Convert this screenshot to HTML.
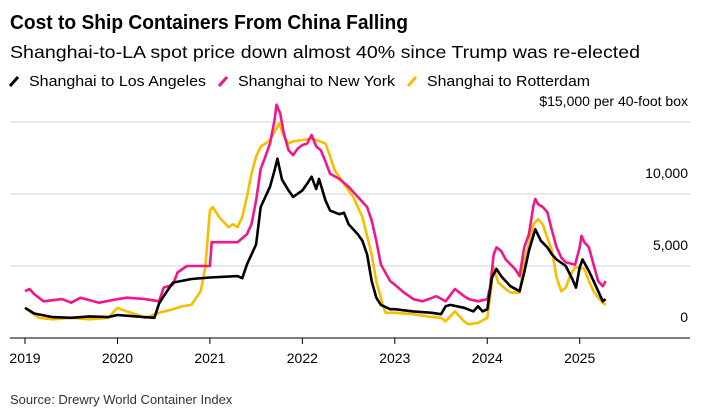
<!DOCTYPE html>
<html><head><meta charset="utf-8"><style>
html,body{margin:0;padding:0;background:#fff;}
svg{display:block;font-family:"Liberation Sans",Arial,sans-serif;}
</style></head><body>
<svg id="chart" width="705" height="408" viewBox="0 0 705 408">
<text x="10" y="29" font-size="20.5" font-weight="bold" fill="#000" textLength="398" lengthAdjust="spacingAndGlyphs">Cost to Ship Containers From China Falling</text>
<text x="10" y="58" font-size="17.5" fill="#000" textLength="630" lengthAdjust="spacingAndGlyphs">Shanghai-to-LA spot price down almost 40% since Trump was re-elected</text>
<g>
<line x1="10" y1="86" x2="18" y2="77" stroke="#000" stroke-width="3"/>
<text x="29" y="86" font-size="14.5" fill="#000" textLength="177" lengthAdjust="spacingAndGlyphs">Shanghai to Los Angeles</text>
<line x1="219" y1="86" x2="227" y2="77" stroke="#f0168c" stroke-width="3"/>
<text x="238" y="86" font-size="14.5" fill="#000" textLength="157" lengthAdjust="spacingAndGlyphs">Shanghai to New York</text>
<line x1="408" y1="86" x2="416" y2="77" stroke="#f7bd00" stroke-width="3"/>
<text x="427" y="86" font-size="14.5" fill="#000" textLength="163" lengthAdjust="spacingAndGlyphs">Shanghai to Rotterdam</text>
</g>
<g id="grid"></g><g id="series"></g><g id="axis"></g>
<text x="10" y="404" font-size="13" fill="#333">Source: Drewry World Container Index</text>
</svg>
<script>
const yTicks=[0,5000,10000,15000];
const yTickLabels=["0","5,000","10,000","$15,000 per 40-foot box"];
const xYears=[2019,2020,2021,2022,2023,2024,2025];
const laT=[2019.0,2019.1,2019.3,2019.5,2019.7,2019.9,2020.0,2020.2,2020.4,2020.45,2020.5,2020.6,2020.8,2021.0,2021.3,2021.35,2021.4,2021.5,2021.55,2021.65,2021.7,2021.73,2021.78,2021.85,2021.9,2022.0,2022.05,2022.1,2022.15,2022.18,2022.25,2022.3,2022.4,2022.45,2022.5,2022.6,2022.65,2022.7,2022.75,2022.8,2022.85,2022.95,2023.0,2023.2,2023.4,2023.5,2023.55,2023.6,2023.75,2023.85,2023.9,2023.95,2024.0,2024.05,2024.1,2024.15,2024.25,2024.35,2024.4,2024.45,2024.52,2024.58,2024.65,2024.7,2024.75,2024.85,2024.92,2024.96,2025.0,2025.03,2025.1,2025.15,2025.2,2025.25,2025.28];
const laV=[2100,1700,1450,1400,1500,1450,1600,1500,1400,2400,2900,3850,4100,4200,4300,4150,5100,6500,9100,10500,11650,12450,11000,10250,9800,10250,10700,11200,10350,11050,9550,8850,8600,8700,7900,7200,6750,5800,3950,2800,2300,2000,2000,1850,1750,1650,2200,2300,2100,1850,2200,1850,2000,4200,4800,4300,3600,3250,4550,6050,7550,6750,6300,5800,5450,5000,4100,3500,4900,5450,4650,3950,3250,2550,2700];
const nyT=[2019.0,2019.05,2019.1,2019.2,2019.4,2019.5,2019.6,2019.8,2020.0,2020.1,2020.3,2020.45,2020.5,2020.6,2020.65,2020.75,2021.0,2021.02,2021.3,2021.4,2021.45,2021.5,2021.55,2021.6,2021.65,2021.7,2021.72,2021.76,2021.8,2021.85,2021.9,2021.95,2022.0,2022.05,2022.1,2022.15,2022.2,2022.25,2022.3,2022.4,2022.5,2022.6,2022.7,2022.75,2022.8,2022.85,2022.95,2023.0,2023.1,2023.2,2023.3,2023.45,2023.55,2023.65,2023.75,2023.8,2023.9,2024.0,2024.03,2024.07,2024.1,2024.15,2024.2,2024.3,2024.35,2024.4,2024.45,2024.5,2024.52,2024.55,2024.6,2024.65,2024.7,2024.75,2024.8,2024.85,2024.95,2025.0,2025.02,2025.05,2025.1,2025.15,2025.2,2025.25,2025.28];
const nyV=[3250,3400,3050,2550,2700,2450,2800,2450,2700,2800,2700,2550,3500,3700,4550,5000,5000,6650,6650,7200,7900,9550,11750,12600,13500,15150,16200,15600,14200,13050,12700,13150,13400,13500,14100,13300,13050,12250,11400,11050,10500,9800,9100,8150,6750,5100,3950,3700,3150,2700,2550,2900,2550,3400,2900,2700,2550,2700,3500,5800,6300,6050,5450,4800,4300,6300,7200,9200,9650,9300,9100,8750,7450,6300,5600,5250,5100,6300,7100,6650,6300,5100,3950,3600,3950];
const rtT=[2019.0,2019.05,2019.15,2019.3,2019.5,2019.7,2019.9,2020.0,2020.1,2020.2,2020.3,2020.45,2020.6,2020.7,2020.8,2020.9,2020.95,2021.0,2021.03,2021.1,2021.2,2021.25,2021.3,2021.35,2021.4,2021.45,2021.5,2021.55,2021.6,2021.65,2021.72,2021.75,2021.8,2021.85,2021.9,2022.0,2022.1,2022.15,2022.25,2022.3,2022.35,2022.45,2022.55,2022.65,2022.75,2022.8,2022.87,2022.9,2023.0,2023.2,2023.35,2023.5,2023.55,2023.65,2023.75,2023.8,2023.9,2024.0,2024.03,2024.07,2024.12,2024.2,2024.25,2024.35,2024.4,2024.45,2024.5,2024.55,2024.6,2024.7,2024.75,2024.8,2024.85,2024.9,2024.95,2025.0,2025.05,2025.1,2025.15,2025.2,2025.25,2025.28];
const rtV=[2100,1850,1400,1300,1400,1300,1400,2100,1850,1650,1400,1750,2000,2200,2300,3250,4900,8850,9100,8400,7700,7900,7700,8400,9800,11400,12600,13300,13500,13750,14550,14900,14000,13500,13650,13750,13850,13750,13500,12600,11650,10700,9800,8400,5800,3950,2300,1750,1750,1650,1500,1400,1150,1850,1150,950,1050,1400,2800,4900,3850,3400,3150,3150,5350,6500,7900,8250,7900,6050,4200,3250,3500,4400,4900,4900,4800,3950,3250,2800,2450,2300];

const NS='http://www.w3.org/2000/svg';
const x0=10,x1=690;
function xScale(t){return 25+(t-2019)*92.45;}
function yScale(v){return 338-v/5000*72;}
function mk(tag,attrs,parent){const e=document.createElementNS(NS,tag);for(const k in attrs)e.setAttribute(k,attrs[k]);parent.appendChild(e);return e;}
const grid=document.getElementById('grid'),series=document.getElementById('series'),axis=document.getElementById('axis');
yTicks.forEach((v,i)=>{
  if(v>0){const l=mk('line',{x1:x0,x2:x1,y1:yScale(v),y2:yScale(v),stroke:'#dcdcdc','stroke-width':1.3},grid);
  
  }
  const t=mk('text',{x:688,y:yScale(v)-16,'font-size':14,'text-anchor':'end',fill:'#000'},grid);
  t.textContent=yTickLabels[i];
  
  
});
const ax=mk('line',{x1:x0,x2:x1,y1:338,y2:338,stroke:'#000','stroke-width':1},axis);


xYears.forEach(y=>{
  const tk=mk('line',{x1:xScale(y),x2:xScale(y),y1:338,y2:344,stroke:'#000','stroke-width':1},axis);
  
  
  const t=mk('text',{x:xScale(y),y:363,'font-size':14,'text-anchor':'middle',fill:'#000'},axis);
  t.textContent=String(y);
  
  
});
function line(T,V,color,name){
  const d=T.map((t,i)=>(i?'L':'M')+xScale(t).toFixed(1)+','+yScale(V[i]).toFixed(1)).join('');
  const p=mk('path',{d:d,fill:'none',stroke:color,'stroke-width':2.6,'stroke-linejoin':'round'},series);
  
  
}
line(rtT,rtV,'#f7bd00','series-shanghai-rotterdam');
line(nyT,nyV,'#f0168c','series-shanghai-new-york');
line(laT,laV,'#000000','series-shanghai-los-angeles');
</script>
</body></html>
